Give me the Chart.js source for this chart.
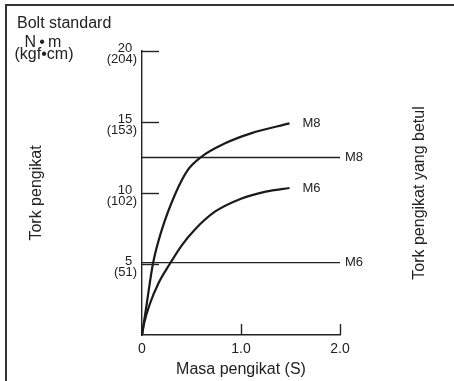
<!DOCTYPE html>
<html><head><meta charset="utf-8">
<script src="https://cdn.jsdelivr.net/npm/chart.js@4/dist/chart.umd.min.js"></script>
<style>html,body{margin:0;padding:0;background:#fff;overflow:hidden}canvas{display:block}</style>
</head><body><canvas id="c" width="454" height="381"></canvas>
<script>
// ---- data ----
const m8CurveX = [0, 0.05, 0.11, 0.20, 0.34, 0.46, 0.59, 0.84, 1.10, 1.49];
const m8CurveY = [0, 2.3, 5.0, 7.4, 10.0, 11.6, 12.5, 13.5, 14.2, 14.9];
const m6CurveX = [0, 0.02, 0.08, 0.17, 0.28, 0.40, 0.53, 0.74, 1.00, 1.25, 1.49];
const m6CurveY = [0, 0.8, 2.2, 3.7, 5.0, 6.3, 7.4, 8.7, 9.6, 10.1, 10.35];
const curveNames = ['M8', 'M6'];
const refLineNames = ['M8', 'M6'];
const refLineValues = [12.5, 5.1];
const xTickValues = [0, 1.0, 2.0];
const xTickLabels = ['0', '1.0', '2.0'];
const yTickValues = [5, 10, 15, 20];
const yTickNm = ['5', '10', '15', '20'];
const yTickKgf = ['(51)', '(102)', '(153)', '(204)'];
const xRange = [0, 2];
const yRange = [0, 20];

const INK = '#222';
const FONT = "'Liberation Sans', Arial, sans-serif";
Chart.defaults.font.family = FONT;
Chart.defaults.color = INK;

const toPts = (xs, ys) => xs.map((x, i) => ({x, y: ys[i]}));
const curveStyle = {showLine: true, pointRadius: 0, borderColor: '#1a1a1a', borderWidth: 2.2, cubicInterpolationMode: 'monotone', clip: false};
const refStyle = {showLine: true, pointRadius: 0, borderColor: INK, borderWidth: 1.4, clip: false};

const datasets = [
  Object.assign({label: curveNames[0], data: toPts(m8CurveX, m8CurveY), kind: 'curve'}, curveStyle),
  Object.assign({label: curveNames[1], data: toPts(m6CurveX, m6CurveY), kind: 'curve'}, curveStyle),
];
refLineValues.forEach((v, i) => {
  datasets.push(Object.assign({label: refLineNames[i], data: [{x: xRange[0], y: v}, {x: xRange[1], y: v}], kind: 'ref'}, refStyle));
});

const decor = {
  id: 'decor',
  beforeDraw(chart) {
    const ctx = chart.ctx;
    ctx.save();
    ctx.fillStyle = '#333';
    ctx.fillRect(5, 4, 449, 2);
    ctx.fillRect(5, 4, 2, 377);
    ctx.restore();
  },
  afterDraw(chart) {
    const ctx = chart.ctx, xs = chart.scales.x, ys = chart.scales.y;
    ctx.save();
    ctx.strokeStyle = INK; ctx.lineWidth = 1.4;
    // inward tick marks on y axis
    yTickValues.forEach(v => {
      const py = Math.round(ys.getPixelForValue(v)) + 0.5;
      ctx.beginPath(); ctx.moveTo(xs.getPixelForValue(0), py); ctx.lineTo(xs.getPixelForValue(0) + 17, py); ctx.stroke();
    });
    // upward tick marks on x axis
    xTickValues.slice(1).forEach(v => {
      const px = Math.round(xs.getPixelForValue(v)) + 0.5;
      const py = ys.getPixelForValue(0);
      ctx.beginPath(); ctx.moveTo(px, py); ctx.lineTo(px, py - 11); ctx.stroke();
    });
    // series labels
    ctx.fillStyle = INK; ctx.textBaseline = 'middle'; ctx.textAlign = 'left';
    ctx.font = '13px ' + FONT;
    chart.data.datasets.forEach((ds, i) => {
      const meta = chart.getDatasetMeta(i);
      const last = meta.data[meta.data.length - 1];
      const dx = ds.kind === 'curve' ? 13 : 5;
      ctx.fillText(ds.label, last.x + dx, last.y);
    });
    // unit / heading texts
    ctx.font = '16px ' + FONT;
    ctx.fillText('Bolt standard', 17, 24);
    ctx.textAlign = 'center';
    ctx.fillText('N\u2009\u2022\u2009m', 43, 43);
    ctx.fillText('(kgf\u2022cm)', 44, 55);
    // right title
    ctx.translate(420, (chart.chartArea.top + chart.chartArea.bottom) / 2);
    ctx.rotate(-Math.PI / 2);
    ctx.fillText('Tork pengikat yang betul', 0, 0);
    ctx.restore();
  }
};

new Chart(document.getElementById('c'), {
  type: 'scatter',
  data: {datasets},
  options: {
    responsive: false, animation: false,
    layout: {padding: {top: 51, right: 114, left: 0, bottom: 0}},
    plugins: {legend: {display: false}, tooltip: {enabled: false}},
    scales: {
      x: {
        type: 'linear', min: xRange[0], max: xRange[1],
        afterFit(s) { s.height = 46; },
        afterBuildTicks(s) { s.ticks = xTickValues.map(v => ({value: v})); },
        grid: {display: false, drawTicks: false},
        border: {display: true, color: INK, width: 1.4},
        ticks: {padding: 6, font: {size: 14}, color: INK, maxRotation: 0,
          callback: (v) => { const i = xTickValues.indexOf(v); return i >= 0 ? xTickLabels[i] : ''; }},
        title: {display: true, text: 'Masa pengikat (S)', font: {size: 16, lineHeight: 1.2}, color: INK, padding: {top: 0, bottom: 1.4}}
      },
      y: {
        type: 'linear', min: yRange[0], max: yRange[1],
        afterFit(s) { s.width = 142; },
        afterBuildTicks(s) { s.ticks = yTickValues.map(v => ({value: v})); },
        grid: {display: false, drawTicks: false},
        border: {display: true, color: INK, width: 1.4},
        ticks: {padding: 5, labelOffset: 3, font: {size: 13, lineHeight: '11px'}, color: INK,
          callback: (v) => { const i = yTickValues.indexOf(v); return i >= 0 ? [yTickNm[i] + ' \u200A', yTickKgf[i]] : ''; }},
        title: {display: true, text: 'Tork pengikat', font: {size: 16, lineHeight: 1.2}, color: INK, padding: {top: 27.4, bottom: 0}}
      }
    }
  },
  plugins: [decor]
});
</script>
</body></html>
